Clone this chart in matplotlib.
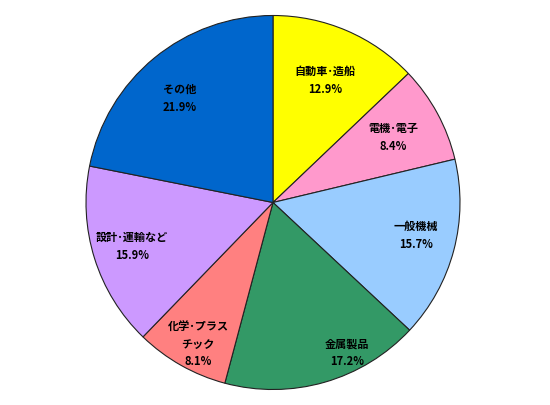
import matplotlib
matplotlib.use("Agg")
import matplotlib.pyplot as plt

plt.rcParams['font.family'] = ['Noto Sans CJK JP', 'DejaVu Sans']

categories = ["自動車･造船", "電機･電子", "一般機械", "金属製品", "化学･プラス\nチック", "設計･運輸など", "その他"]
values = [12.9, 8.4, 15.7, 17.2, 8.1, 15.9, 21.9]
colors = ["#FFFF00", "#FF99CC", "#99CCFF", "#339966", "#FF8080", "#CC99FF", "#0066CC"]

labels = [f"{c}\n{v}%" for c, v in zip(categories, values)]

# label anchor positions (in pie-radius units), as placed in the reference
label_xy = [(0.278, 0.652), (0.642, 0.348), (0.765, -0.176), (0.396, -0.805),
            (-0.401, -0.757), (-0.754, -0.235), (-0.497, 0.556)]

W, H = 550, 405
fig = plt.figure(figsize=(W / 100, H / 100), dpi=100)
cx, cy, r = 273, 202.5, 187
ax = fig.add_axes([(cx - r) / W, (cy - r) / H, 2 * r / W, 2 * r / H])
wedges, texts = ax.pie(values, labels=labels, colors=colors, startangle=90, counterclock=False,
                       labeldistance=0.72, radius=1.0,
                       wedgeprops=dict(edgecolor="#222222", linewidth=0.8),
                       textprops=dict(fontsize=8, fontweight="bold", ha="center", va="center",
                                      linespacing=1.45, color="black"))
for w in wedges:
    w.set_clip_on(False)
for t, (x, y) in zip(texts, label_xy):
    t.set_position((x, y))
    t.set_horizontalalignment("center")
    t.set_verticalalignment("center")
ax.set_xlim(-1, 1)
ax.set_ylim(-1, 1)
ax.set_aspect("equal")
ax.axis("off")
fig.savefig("out.png", dpi=100)
